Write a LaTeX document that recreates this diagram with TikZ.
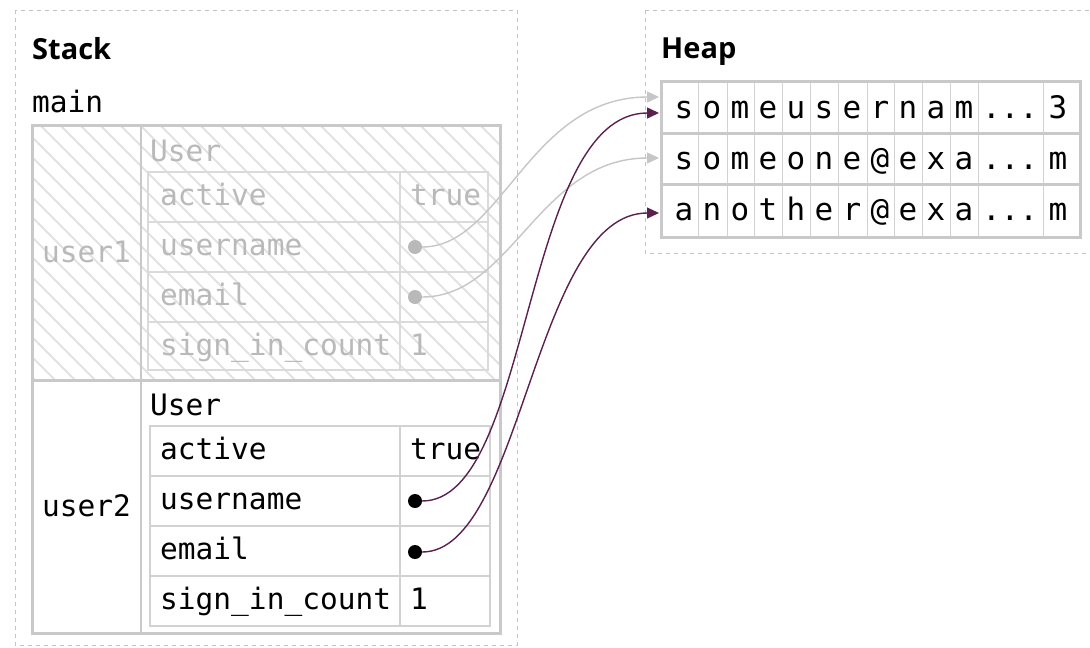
\documentclass[tikz,border=0pt]{standalone}
\usepackage{fontspec}
\setmainfont{Open Sans}
\newfontfamily\monofont{DejaVu Sans Mono}
\usetikzlibrary{arrows.meta}
\definecolor{framegray}{HTML}{C9C9C9}
\definecolor{dashgray}{HTML}{C4C4C4}
\definecolor{innergray}{HTML}{D2D2D2}
\definecolor{hatchgray}{HTML}{E2E2E2}
\definecolor{fadetext}{HTML}{B9B9B9}
\definecolor{fadeline}{HTML}{DADADA}
\definecolor{ptrpurple}{HTML}{5A2150}
\definecolor{ptrgray}{HTML}{C6C6C6}
\newcommand\heapdots{.{}.{}.}
\begin{document}
\begin{tikzpicture}[x=1pt,y=-1pt,
  title/.style={inner sep=0pt, anchor=base west, font=\fontsize{29}{34}\selectfont\bfseries},
  txt/.style={inner sep=0pt, anchor=base west, font=\monofont\fontsize{29.5}{34}\selectfont},
  ctxt/.style={inner sep=0pt, anchor=base, font=\monofont\fontsize{31}{36}\selectfont},
  region/.style={draw=dashgray, line width=1pt, dash pattern=on 4pt off 4pt},
  outerframe/.style={draw=framegray, line width=3pt},
  innerframe/.style={draw=innergray, line width=1.3pt},
  fadeframe/.style={draw=fadeline, line width=1.3pt},
  hatch/.style={draw=hatchgray, line width=2pt},
  ptrdot/.style={circle, inner sep=0pt, minimum size=14pt},
  ptr/.style={line width=1.4pt, -{Triangle[length=12pt,width=11pt]}},
]
\useasboundingbox (0,0) rectangle (1090,648);
\clip (0,0) rectangle (1090,648);

% regions
\draw[region] (15,10) rectangle (517,645);
\draw[region] (645,10) rectangle (1100,253);
\node[title] (stack) at (32,59) {Stack};
\node[title] (heap) at (661,58) {Heap};
\node[txt] (main) at (32,112) {main};

% hatching of user1
\begin{scope}
  \clip (32,125) rectangle (500,380);
  \foreach \i in {-13,...,25} \draw[hatch] (\i*20,125) -- ++(255,255);
\end{scope}

% user1 inner table (faded)
\draw[fadeframe] (148,172) rectangle (488,370);
\foreach \yy in {222,272,322} \draw[fadeframe] (148,\yy) -- (488,\yy);
\draw[fadeframe] (400,172) -- (400,370);

% user2 inner table
\draw[innerframe] (150,426) rectangle (490,626);
\foreach \yy in {476,526,576} \draw[innerframe] (150,\yy) -- (490,\yy);
\draw[innerframe] (400,426) -- (400,626);

% main frame
\draw[outerframe] (32,125) rectangle (500,633);
\draw[outerframe] (32,380) -- (500,380);
\draw[draw=framegray, line width=1.5pt] (141,125) -- (141,633);

% user1 texts
\begin{scope}[every node/.append style={text=fadetext}]
\node[txt] (u1) at (42,262) {user1};
\node[txt] (u1type) at (150,161) {User};
\node[txt] (u1a) at (160,205) {active};
\node[txt] (u1av) at (410,205) {true};
\node[txt] (u1u) at (160,255) {username};
\node[txt] (u1e) at (160,305) {email};
\node[txt] (u1s) at (160,355) {sign\_in\_count};
\node[txt] (u1sv) at (410,355) {1};
\end{scope}
\node[ptrdot, fill=fadetext] (d1u) at (415,247) {};
\node[ptrdot, fill=fadetext] (d1e) at (415,297) {};

% user2 texts
\node[txt] (u2) at (42,516) {user2};
\node[txt] (u2type) at (150,415) {User};
\node[txt] (u2a) at (160,459) {active};
\node[txt] (u2av) at (410,459) {true};
\node[txt] (u2u) at (160,509) {username};
\node[txt] (u2e) at (160,559) {email};
\node[txt] (u2s) at (160,609) {sign\_in\_count};
\node[txt] (u2sv) at (410,609) {1};
\node[ptrdot, fill=black] (d2u) at (415,501) {};
\node[ptrdot, fill=black] (d2e) at (415,552) {};

% heap table
\foreach \x in {698,727,754,782,810,838,867,894,922,950,978,1043}
  \draw[innergray, line width=1pt] (\x,81) -- (\x,237);
\draw[outerframe] (661,81) rectangle (1080,237);
\draw[outerframe] (661,133) -- (1080,133);
\draw[outerframe] (661,184) -- (1080,184);

\foreach \c/\cx [count=\k] in {s/684,o/712,m/740,e/768,u/796,s/824,e/852,r/880,n/908,a/936,m/964,\heapdots/1010,3/1058}
  \node[ctxt] (ha\k) at (\cx,118) {\c};
\foreach \c/\cx [count=\k] in {s/684,o/712,m/740,e/768,o/796,n/824,e/852,@/880,e/908,x/936,a/964,\heapdots/1010,m/1058}
  \node[ctxt] (hb\k) at (\cx,169) {\c};
\foreach \c/\cx [count=\k] in {a/684,n/712,o/740,t/768,h/796,e/824,r/852,@/880,e/908,x/936,a/964,\heapdots/1010,m/1058}
  \node[ctxt] (hc\k) at (\cx,220) {\c};

% arrow targets
\coordinate (t1g) at (659,97);
\coordinate (t1p) at (659,113);
\coordinate (t2g) at (659,158);
\coordinate (t3p) at (659,213);

% pointers
\draw[ptr, draw=ptrgray] (d1u.east) .. controls +(80,0) and +(-130,0) .. (t1g);
\draw[ptr, draw=ptrgray] (d1e.east) .. controls +(90,0) and +(-120,0) .. (t2g);
\draw[ptr, draw=ptrpurple] (d2u.east) .. controls +(110,0) and +(-137,0) .. (t1p);
\draw[ptr, draw=ptrpurple] (d2e.east) .. controls +(100,0) and +(-125,0) .. (t3p);
\end{tikzpicture}
\end{document}
